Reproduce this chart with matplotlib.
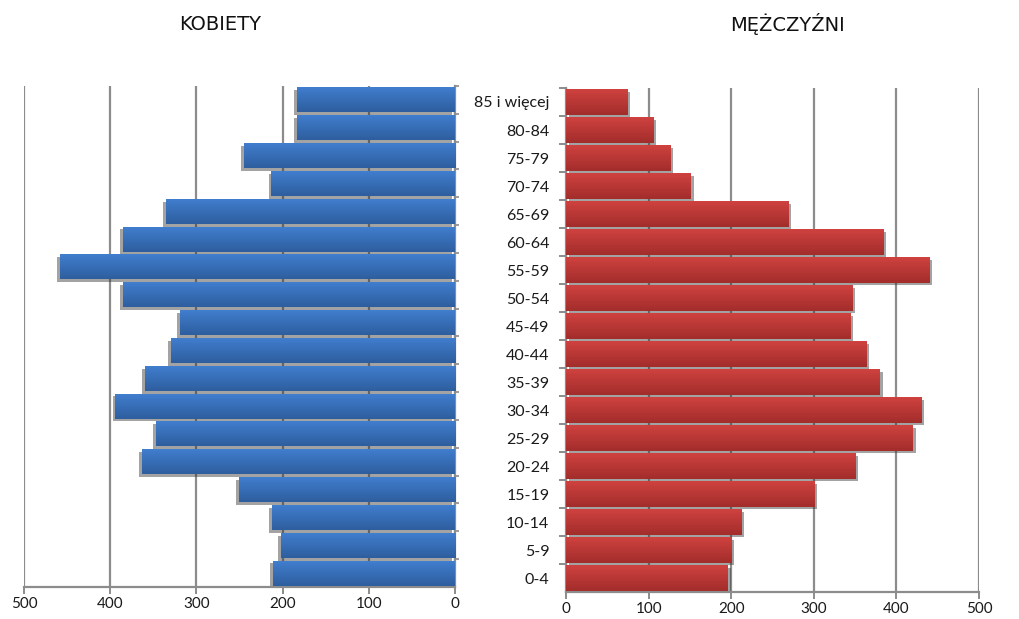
import numpy as np
import matplotlib.pyplot as plt
import matplotlib.patheffects as pe
from matplotlib.colors import LinearSegmentedColormap

plt.rcParams['font.family'] = ['Lato', 'DejaVu Sans']

# age groups, bottom to top
ages = ["0-4", "5-9", "10-14", "15-19", "20-24", "25-29", "30-34", "35-39", "40-44",
        "45-49", "50-54", "55-59", "60-64", "65-69", "70-74", "75-79", "80-84", "85 i więcej"]
kobiety = [211, 202, 212, 251, 363, 347, 394, 360, 330, 319, 385, 458, 385, 335, 213, 245, 183, 183]
mezczyzni = [196, 200, 212, 301, 350, 420, 430, 380, 364, 344, 347, 440, 384, 269, 151, 126, 106, 74]
xticks = [0, 100, 200, 300, 400, 500]

grid_col = "#8c8c8c"


def gradient_bars(ax, bars, top_col, bot_col, shadow_off):
    cmap = LinearSegmentedColormap.from_list("g", [bot_col, top_col])
    grad = np.linspace(0, 1, 64).reshape(-1, 1)
    for b in bars:
        b.set_path_effects([pe.SimplePatchShadow(offset=shadow_off, shadow_rgbFace="0.2", alpha=0.45),
                            pe.Normal()])
        x, y = b.get_x(), b.get_y()
        w, h = b.get_width(), b.get_height()
        im = ax.imshow(grad, cmap=cmap, extent=[x, x + w, y, y + h], origin="lower",
                       aspect="auto", zorder=3, interpolation="bilinear")
        im.set_clip_path(b)


def style(ax):
    ax.set_xlim(0, 500)
    ax.set_ylim(-0.5, len(ages) - 0.5)
    ax.set_xticks(xticks)
    ax.set_xticklabels([str(t) for t in xticks])
    ax.xaxis.grid(True, color=grid_col, linewidth=1.6)
    ax.set_axisbelow(True)
    for s in ax.spines.values():
        s.set_visible(False)
    ax.spines["bottom"].set_visible(True)
    ax.spines["bottom"].set_color(grid_col)
    ax.spines["bottom"].set_linewidth(1.6)
    ax.tick_params(axis="x", colors=grid_col, length=5, width=1.4, labelsize=11,
                   labelcolor="#1a1a1a", pad=2)
    ax.set_yticks(np.arange(len(ages)) + 0.5, minor=True)


fig = plt.figure(figsize=(10.19, 6.19), dpi=100)

# kobiety (left)
axl = fig.add_axes([24 / 1019, 1 - 587 / 619, (455 - 24) / 1019, (587 - 86) / 619])
bl = axl.barh(np.arange(len(ages)), kobiety, height=0.9, color="#3a72c0", zorder=2)
style(axl)
gradient_bars(axl, bl, "#417fd0", "#2e5e9e", (-2, -2))
axl.set_xlim(500, 0)
axl.set_ylim(-0.5, len(ages) - 0.5)
axl.spines["right"].set_visible(True)
axl.spines["right"].set_color(grid_col)
axl.spines["right"].set_linewidth(1.6)
axl.yaxis.tick_right()
axl.set_yticks([])
axl.set_yticks(np.arange(len(ages)) + 0.5, minor=True)
axl.tick_params(axis="y", which="minor", colors=grid_col, length=3, width=1.2)

# mezczyzni (right)
axr = fig.add_axes([566 / 1019, 1 - 592 / 619, (979 - 566) / 1019, (592 - 88) / 619])
br = axr.barh(np.arange(len(ages)), mezczyzni, height=0.9, color="#c03a38", zorder=2)
style(axr)
gradient_bars(axr, br, "#cf4240", "#a22d2b", (2, -2))
axr.set_xlim(0, 500)
axr.set_ylim(-0.5, len(ages) - 0.5)
axr.spines["left"].set_visible(True)
axr.spines["left"].set_color(grid_col)
axr.spines["left"].set_linewidth(1.6)
axr.set_yticks(np.arange(len(ages)))
axr.set_yticklabels(ages)
axr.tick_params(axis="y", which="major", length=0, labelsize=11.5, labelcolor="#1a1a1a", pad=12)
axr.tick_params(axis="y", which="minor", colors=grid_col, length=5, width=1.4)

fig.text(220 / 1019, 1 - 24 / 619, "KOBIETY", ha="center", va="center", fontsize=14,
         family="DejaVu Sans", color="#111111")
fig.text(788 / 1019, 1 - 24 / 619, "MĘŻCZYŹNI", ha="center", va="center", fontsize=14,
         family="DejaVu Sans", color="#111111")

fig.savefig("out.png", dpi=100)
